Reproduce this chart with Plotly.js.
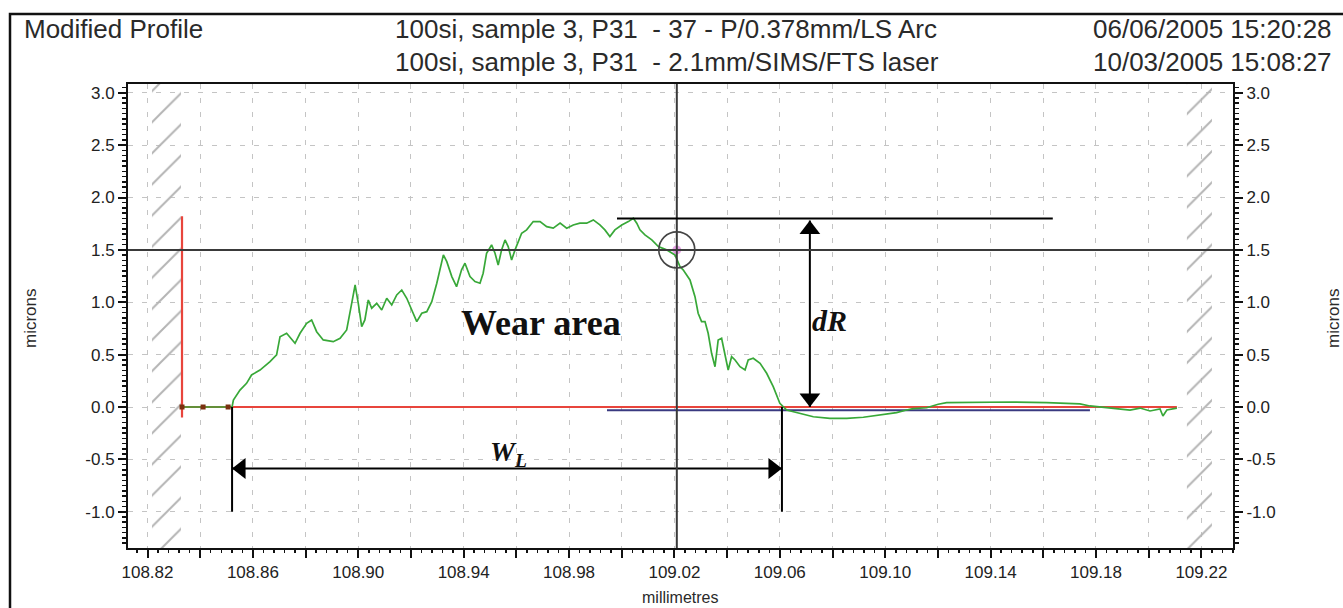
<!DOCTYPE html>
<html><head><meta charset="utf-8">
<script src="https://cdn.plot.ly/plotly-3.0.1.min.js"></script>
<style>html,body{margin:0;padding:0;background:#fff}</style>
</head><body><div id="chart" style="width:1343px;height:608px"></div>
<script>
// ---- data (millimetres, microns) ----
const profileX = [108.8331,108.8411,108.8521,108.8526,108.8551,108.8576,108.8595,108.8627,108.8665,108.8690,108.8703,108.8728,108.8760,108.8779,108.8804,108.8823,108.8842,108.8867,108.8905,108.8931,108.8956,108.8975,108.8988,108.9000,108.9013,108.9025,108.9038,108.9051,108.9070,108.9089,108.9108,108.9127,108.9146,108.9165,108.9184,108.9203,108.9222,108.9241,108.9260,108.9279,108.9298,108.9323,108.9336,108.9355,108.9373,108.9392,108.9405,108.9424,108.9443,108.9462,108.9474,108.9487,108.9506,108.9519,108.9531,108.9544,108.9557,108.9569,108.9582,108.9595,108.9620,108.9639,108.9664,108.9690,108.9715,108.9740,108.9766,108.9791,108.9816,108.9841,108.9867,108.9892,108.9917,108.9936,108.9955,108.9974,109.0000,109.0025,109.0044,109.0057,109.0069,109.0088,109.0114,109.0139,109.0170,109.0202,109.0221,109.0233,109.0259,109.0278,109.0290,109.0303,109.0316,109.0328,109.0341,109.0354,109.0366,109.0379,109.0392,109.0404,109.0417,109.0430,109.0449,109.0468,109.0480,109.0499,109.0525,109.0550,109.0575,109.0600,109.0626,109.0664,109.0727,109.0790,109.0854,109.0917,109.0980,109.1043,109.1081,109.1106,109.1157,109.1201,109.1233,109.1359,109.1486,109.1613,109.1739,109.1777,109.1853,109.1929,109.1967,109.2005,109.2043,109.2054,109.2069,109.2107];
const profileY = [0,0,0,0.067,0.162,0.226,0.306,0.353,0.433,0.497,0.671,0.704,0.608,0.704,0.799,0.831,0.719,0.640,0.624,0.656,0.735,0.990,1.165,0.990,0.767,0.831,1.022,0.943,0.990,0.926,1.038,0.974,1.070,1.117,1.038,0.926,0.815,0.895,0.910,1.006,1.181,1.452,1.388,1.245,1.149,1.309,1.373,1.245,1.197,1.181,1.277,1.468,1.547,1.468,1.356,1.500,1.595,1.531,1.404,1.500,1.659,1.691,1.770,1.770,1.722,1.707,1.755,1.707,1.738,1.755,1.755,1.786,1.738,1.691,1.627,1.691,1.738,1.770,1.802,1.755,1.691,1.643,1.595,1.531,1.500,1.452,1.340,1.309,1.213,1.053,0.895,0.815,0.815,0.704,0.513,0.385,0.640,0.656,0.480,0.353,0.480,0.449,0.385,0.353,0.449,0.465,0.417,0.322,0.194,0.035,-0.029,-0.054,-0.093,-0.108,-0.108,-0.098,-0.076,-0.054,-0.029,-0.016,-0.007,0.026,0.041,0.048,0.048,0.041,0.029,0.010,-0.010,-0.029,-0.010,-0.038,-0.019,-0.086,-0.029,-0.010];

const refLineX = [108.8331, 108.8331, 108.8331, 109.2107];
const refLineY = [1.82, -0.10, 0, 0];
const refMarkX = [108.8331, 108.8411, 108.8506];
const refMarkY = [0, 0, 0];
const lsLineX = [108.9944, 109.1777];
const lsLineY = [-0.03, -0.03];

const xTickVals = [108.82,108.86,108.90,108.94,108.98,109.02,109.06,109.10,109.14,109.18,109.22];
const xTickText = ["108.82","108.86","108.90","108.94","108.98","109.02","109.06","109.10","109.14","109.18","109.22"];
const yTickVals = [-1.0,-0.5,0.0,0.5,1.0,1.5,2.0,2.5,3.0];
const yTickText = ["-1.0","-0.5","0.0","0.5","1.0","1.5","2.0","2.5","3.0"];

const xRange = [108.8126, 109.2320];
const yRange = [-1.346, 3.0835];
const hatchLeft = [108.8217, 108.8327];
const hatchRight = [109.2145, 109.2240];

// cursor / measurement marks
const cursorX = 109.0209, cursorY = 1.5;
const dRx = 109.0714, dRtop = 1.80, dRtip = 1.78;
const dRlineX = [108.9982, 109.1636];
const wlLeft = 108.8521, wlRight = 109.0608, wlArrowY = -0.587, wlDepth = -1.0;

const headerLeft = "Modified Profile";
const headerMid = ["100si, sample 3, P31  - 37 - P/0.378mm/LS Arc", "100si, sample 3, P31  - 2.1mm/SIMS/FTS laser"];
const headerRight = ["06/06/2005 15:20:28", "10/03/2005 15:08:27"];

// ---- layout geometry ----
const W = 1343, H = 608, ML = 128, MR = 110, MT = 84, MB = 60;
const plotW = W - ML - MR, plotH = H - MT - MB;
const pxPerX = plotW / (xRange[1] - xRange[0]);
const pxPerY = plotH / (yRange[1] - yRange[0]);
const headR = 9; // arrow head "radius" in px

function hatch(xs){
  return {x:[xs[0],xs[1],xs[1],xs[0],xs[0]], y:[yRange[0],yRange[0],yRange[1],yRange[1],yRange[0]],
    mode:'none', fill:'toself', fillcolor:'rgba(0,0,0,0)',
    fillpattern:{shape:'/', fgcolor:'#b4b4b4', bgcolor:'rgba(0,0,0,0)', size:22, solidity:0.09},
    hoverinfo:'skip', showlegend:false};
}

const traces = [
  hatch(hatchLeft), hatch(hatchRight),
  {x:refLineX, y:refLineY, mode:'lines', line:{color:'#e8453c', width:2.2}, showlegend:false},
  {x:lsLineX, y:lsLineY, mode:'lines', line:{color:'#3a3a80', width:2}, showlegend:false},
  {x:profileX, y:profileY, mode:'lines', line:{color:'#38a838', width:1.7}, showlegend:false},
  {x:refMarkX, y:refMarkY, mode:'markers', marker:{symbol:'square', size:5, color:'#7a3010'}, showlegend:false},
  {x:[cursorX], y:[cursorY], mode:'markers', marker:{size:9, color:'rgba(225,140,225,0.8)'}, showlegend:false},
  // dR double arrow shaft
  {x:[dRx, dRx], y:[0, dRtip], mode:'lines', line:{color:'#000', width:2}, showlegend:false},
  // W_L double arrow shaft
  {x:[wlLeft, wlRight], y:[wlArrowY, wlArrowY], mode:'lines', line:{color:'#000', width:2}, showlegend:false},
  // arrow heads (tip placed on the shaft ends)
  {x:[dRx, dRx, wlLeft + headR/pxPerX, wlRight - headR/pxPerX],
   y:[dRtip - headR/pxPerY, headR/pxPerY, wlArrowY, wlArrowY],
   mode:'markers', marker:{symbol:['triangle-up','triangle-down','triangle-left','triangle-right'], size:2*headR, color:'#000', line:{width:0}},
   showlegend:false}
];
// invisible carriers for the right y axis and the fine-tick x axis
traces.push({x:[xRange[0]], y:[0], yaxis:'y2', mode:'markers', marker:{opacity:0}, showlegend:false, hoverinfo:'skip'});
traces.push({x:[xRange[0]], y:[0], xaxis:'x2', mode:'markers', marker:{opacity:0}, showlegend:false, hoverinfo:'skip'});

const px = v => (v - ML) / plotW;
const py = v => (H - MB - v) / plotH;
const txtFont = {family:'Liberation Sans, Arial, sans-serif', size:26, color:'#2a2a2a'};
const axTitleFont = {family:'Liberation Sans, Arial, sans-serif', size:17, color:'#2a2a2a'};

const annotations = [
  {xref:'paper', yref:'paper', x:px(22), y:py(29), xanchor:'left', yanchor:'middle', text:headerLeft, showarrow:false, font:txtFont},
  {xref:'paper', yref:'paper', x:px(393), y:py(29), xanchor:'left', yanchor:'middle', text:headerMid[0], showarrow:false, font:txtFont},
  {xref:'paper', yref:'paper', x:px(393), y:py(62), xanchor:'left', yanchor:'middle', text:headerMid[1], showarrow:false, font:txtFont},
  {xref:'paper', yref:'paper', x:px(1334), y:py(29), xanchor:'right', yanchor:'middle', text:headerRight[0], showarrow:false, font:txtFont},
  {xref:'paper', yref:'paper', x:px(1334), y:py(62), xanchor:'right', yanchor:'middle', text:headerRight[1], showarrow:false, font:txtFont},
  {xref:'paper', yref:'paper', x:px(30), y:py(318), xanchor:'center', yanchor:'middle', textangle:-90, text:'microns', showarrow:false, font:axTitleFont},
  {xref:'paper', yref:'paper', x:px(1333), y:py(318), xanchor:'center', yanchor:'middle', textangle:-90, text:'microns', showarrow:false, font:axTitleFont},
  {xref:'paper', yref:'paper', x:px(680), y:py(597), xanchor:'center', yanchor:'middle', text:'millimetres', showarrow:false, font:{family:'Liberation Sans, Arial, sans-serif', size:16, color:'#2a2a2a'}},
  {xref:'x', yref:'y', x:108.9693, y:0.80, xanchor:'center', yanchor:'middle', text:'<b>Wear area</b>', showarrow:false, font:{family:'Liberation Serif, Times New Roman, serif', size:36, color:'#111'}},
  {xref:'x', yref:'y', x:dRx, y:0.83, xanchor:'left', yanchor:'middle', text:'<b><i>dR</i></b>', showarrow:false, font:{family:'Liberation Serif, Times New Roman, serif', size:30, color:'#111'}},
  {xref:'x', yref:'y', x:108.9572, y:-0.44, xanchor:'center', yanchor:'middle', text:'<b><i>W</i></b><sub><b><i>L</i></b></sub>', showarrow:false, font:{family:'Liberation Serif, Times New Roman, serif', size:28, color:'#111'}}
];

const shapes = [
  // outer frame (only top and left edges fall inside the picture)
  {type:'rect', xref:'paper', yref:'paper', x0:px(10), x1:px(1370), y0:py(640), y1:py(14), line:{color:'#111', width:2.5}, layer:'below'},
  // cursor cross
  {type:'line', xref:'paper', yref:'y', x0:0, x1:1, y0:cursorY, y1:cursorY, line:{color:'#3a3a3a', width:2}},
  {type:'line', xref:'x', yref:'paper', x0:cursorX, x1:cursorX, y0:0, y1:1, line:{color:'#3a3a3a', width:2}},
  {type:'circle', xref:'x', yref:'y', xsizemode:'pixel', ysizemode:'pixel', xanchor:cursorX, yanchor:cursorY, x0:-18, x1:18, y0:-18, y1:18, line:{color:'#444', width:1.6}},
  // dR top line
  {type:'line', xref:'x', yref:'y', x0:dRlineX[0], x1:dRlineX[1], y0:dRtop, y1:dRtop, line:{color:'#000', width:2}},
  // W_L verticals
  {type:'line', xref:'x', yref:'y', x0:wlLeft, x1:wlLeft, y0:0, y1:wlDepth, line:{color:'#000', width:2}},
  {type:'line', xref:'x', yref:'y', x0:wlRight, x1:wlRight, y0:0, y1:wlDepth, line:{color:'#000', width:2}}
];

const tickFont = {family:'Liberation Sans, Arial, sans-serif', size:17, color:'#222'};
const gridStyle = {gridcolor:'#c4c4c4', gridwidth:1, griddash:'5px,9px'};
const yCommon = {
  range:yRange, tickvals:yTickVals, ticktext:yTickText, ticks:'outside', ticklen:8, tickwidth:2, tickcolor:'#111',
  showline:true, linecolor:'#111', linewidth:2, zeroline:false, tickfont:tickFont,
  minor:{dtick:0.05, tick0:0, ticks:'outside', ticklen:4, tickwidth:1.5, tickcolor:'#111', showgrid:false}
};

const layout = {
  width:W, height:H,
  margin:{l:ML, r:MR, t:MT, b:MB, pad:0},
  paper_bgcolor:'#fff', plot_bgcolor:'#fff',
  showlegend:false,
  xaxis:Object.assign({range:xRange, tickvals:xTickVals, ticktext:xTickText, ticks:'outside', ticklen:8, tickwidth:2, tickcolor:'#111',
    showline:true, mirror:true, linecolor:'#111', linewidth:2, zeroline:false, tickfont:tickFont, showgrid:true,
    minor:Object.assign({dtick:0.02, tick0:108.82, ticks:'outside', ticklen:8, tickwidth:2, tickcolor:'#111', showgrid:true}, gridStyle)}, gridStyle),
  xaxis2:{overlaying:'x', anchor:'y', side:'bottom', range:xRange, showticklabels:false, showgrid:false, zeroline:false, showline:false,
    tick0:108.82, dtick:0.004, ticks:'outside', ticklen:4, tickwidth:1.5, tickcolor:'#111'},
  yaxis:Object.assign({}, yCommon, {showgrid:true}, gridStyle),
  yaxis2:Object.assign({}, yCommon, {overlaying:'y', side:'right', showgrid:false}),
  annotations:annotations,
  shapes:shapes
};

Plotly.newPlot('chart', traces, layout, {staticPlot:true, displayModeBar:false});
</script></body></html>
